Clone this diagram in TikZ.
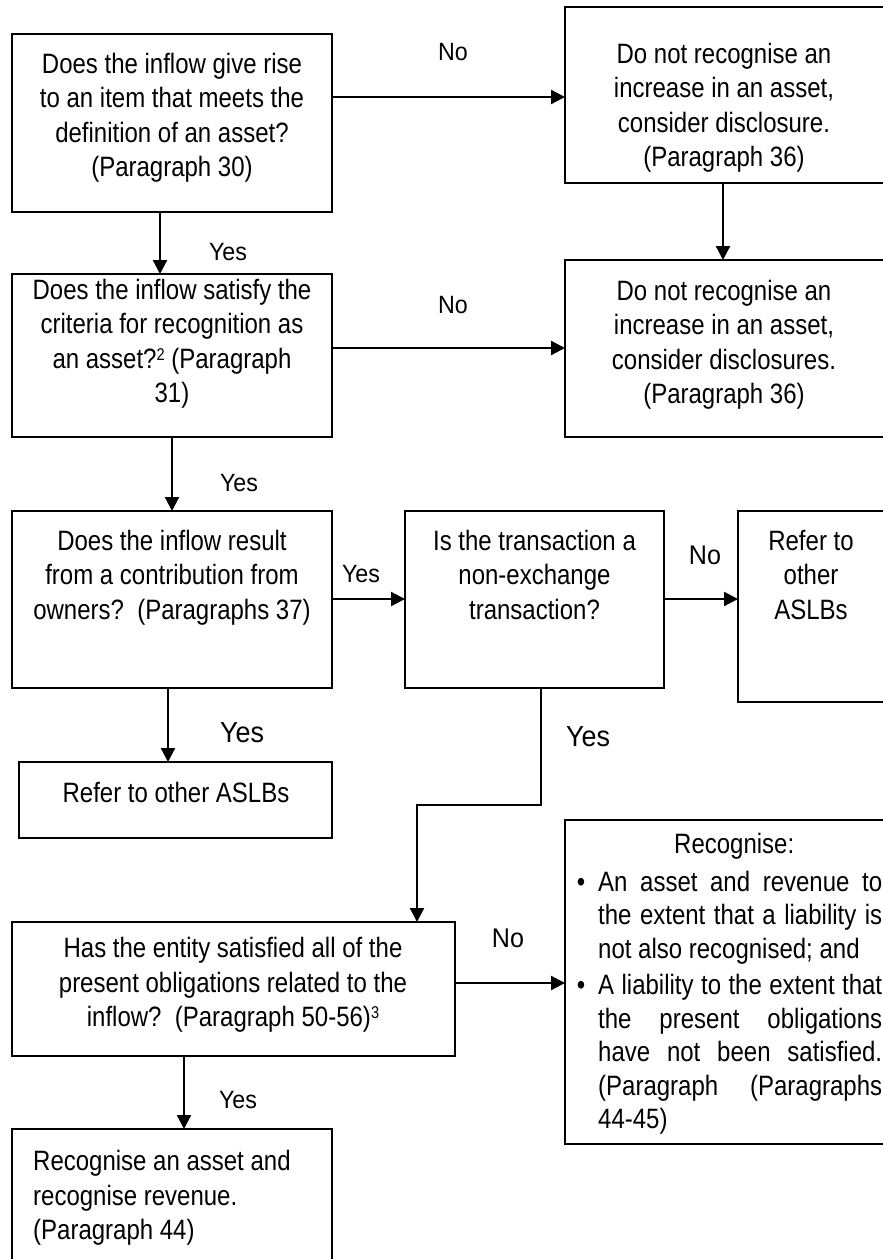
\documentclass[tikz,border=0pt]{standalone}
\usepackage{fontspec}
\setmainfont[FakeStretch=0.857]{Liberation Sans}
\newfontfamily\lblfont[FakeStretch=0.93]{Liberation Sans}
\usetikzlibrary{arrows.meta,calc}
\newcommand{\supnum}[1]{\raisebox{8pt}{\fontsize{17}{17}\selectfont #1}}
\begin{document}
\begin{tikzpicture}[x=1pt,y=-1pt,
  box/.style={draw, line width=2.2pt, inner sep=0pt, outer sep=0pt, anchor=north west},
  txt/.style={align=center, inner sep=0pt, anchor=north, font=\fontsize{28}{34.5}\selectfont},
  lbl/.style={inner sep=0pt, anchor=base, font=\lblfont\fontsize{25}{30}\selectfont},
  midlbl/.style={inner sep=0pt, anchor=base, font=\lblfont\fontsize{27}{32}\selectfont},
  biglbl/.style={inner sep=0pt, anchor=base, font=\lblfont\fontsize{29}{34}\selectfont},
  arr/.style={line width=2.2pt, -{Triangle[length=14pt,width=14pt]}}]
\useasboundingbox (0,0) rectangle (883,1259);
\fill[white] (0,0) rectangle (883,1259);
\clip (0,0) rectangle (883,1259);

% boxes
\node[box, minimum width=320pt, minimum height=178pt] (b1) at (12,34) {};
\node[box, minimum width=320pt, minimum height=176pt] (b2) at (565,7) {};
\node[box, minimum width=320pt, minimum height=177pt] (b3) at (565,260) {};
\node[box, minimum width=320pt, minimum height=163pt] (b4) at (12,274) {};
\node[box, minimum width=320pt, minimum height=177pt] (b5) at (12,511) {};
\node[box, minimum width=259pt, minimum height=177pt] (b6) at (405,511) {};
\node[box, minimum width=148pt, minimum height=191pt] (b7) at (738,511) {};
\node[box, minimum width=313pt, minimum height=76pt] (b8) at (19,762) {};
\node[box, minimum width=443pt, minimum height=134pt] (b9) at (12,922) {};
\node[box, minimum width=320pt, minimum height=324pt] (b10) at (565,820) {};
\node[box, minimum width=320pt, minimum height=145pt] (b11) at (12,1129) {};

% texts
\node[txt] (t1) at (172,53) {Does the inflow give rise\\to an item that meets the\\definition of an asset?\\(Paragraph 30)};
\node[txt] (t2) at (724,43) {Do not recognise an\\increase in an asset,\\consider disclosure.\\(Paragraph 36)};
\node[txt] (t3) at (724,280) {Do not recognise an\\increase in an asset,\\consider disclosures.\\(Paragraph 36)};
\node[txt] (t4) at (172,279) {Does the inflow satisfy the\\criteria for recognition as\\an asset?\supnum{2} (Paragraph\\31)};
\node[txt] (t5) at (172,530) {Does the inflow result\\from a contribution from\\owners?\ \ (Paragraphs 37)};
\node[txt] (t6) at (534.5,530) {Is the transaction a\\non-exchange\\transaction?};
\node[txt] (t7) at (811,530) {Refer to\\other\\ASLBs};
\node[txt] (t8) at (176,782) {Refer to other ASLBs};
\node[txt] (t9) at (233,937) {Has the entity satisfied all of the\\present obligations related to the\\inflow?\ \ (Paragraph 50-56)\supnum{3}};
\node[txt, anchor=north west, align=left] (t11) at (33,1150) {Recognise an asset and\\recognise revenue.\\(Paragraph 44)};
\node[anchor=north west, inner sep=0pt, align=left, font=\fontsize{28}{33.5}\selectfont] (t10) at (598,833) {%
\makebox[272pt]{Recognise:}\\[4pt]
\llap{\textbullet\hspace{13pt}}\makebox[284pt][s]{An asset and revenue to}\\
\makebox[284pt][s]{the extent that a liability is}\\
not also recognised; and\\[3pt]
\llap{\textbullet\hspace{13pt}}\makebox[284pt][s]{A liability to the extent that}\\
\makebox[284pt][s]{the present obligations}\\
\makebox[284pt][s]{have not been satisfied.}\\
\makebox[284pt][s]{(Paragraph (Paragraphs}\\
44-45)};

% labels
\node[lbl] (l1) at (453,60) {No};
\node[lbl] (l2) at (228,260) {Yes};
\node[lbl] (l3) at (453,313) {No};
\node[lbl] (l4) at (239,491) {Yes};
\node[lbl] (l5) at (361,582) {Yes};
\node[midlbl] (l6) at (705,564) {No};
\node[biglbl] (l7) at (242,742) {Yes};
\node[biglbl] (l8) at (588,746) {Yes};
\node[midlbl] (l9) at (508,947) {No};
\node[lbl] (l10) at (238,1108) {Yes};

% connectors
\draw[arr] (b1.east |- 0,97) -- (b2.west |- 0,97);
\draw[arr] (b2.south -| 723,0) -- (b3.north -| 723,0);
\draw[arr] (b1.south -| 160,0) -- (b4.north -| 160,0);
\draw[arr] (b4.east |- 0,348) -- (b3.west |- 0,348);
\draw[arr] (b4.south -| 172,0) -- (b5.north -| 172,0);
\draw[arr] (b5.east |- 0,599) -- (b6.west |- 0,599);
\draw[arr] (b6.east |- 0,599) -- (b7.west |- 0,599);
\draw[arr] (b5.south -| 168,0) -- (b8.north -| 168,0);
\coordinate (bend) at (417,805);
\draw[arr] (b6.south -| 541,0) |- (bend) -- (b9.north -| bend);
\draw[arr] (b9.east |- 0,983) -- (b10.west |- 0,983);
\draw[arr] (b9.south -| 184,0) -- (b11.north -| 184,0);
\end{tikzpicture}
\end{document}
